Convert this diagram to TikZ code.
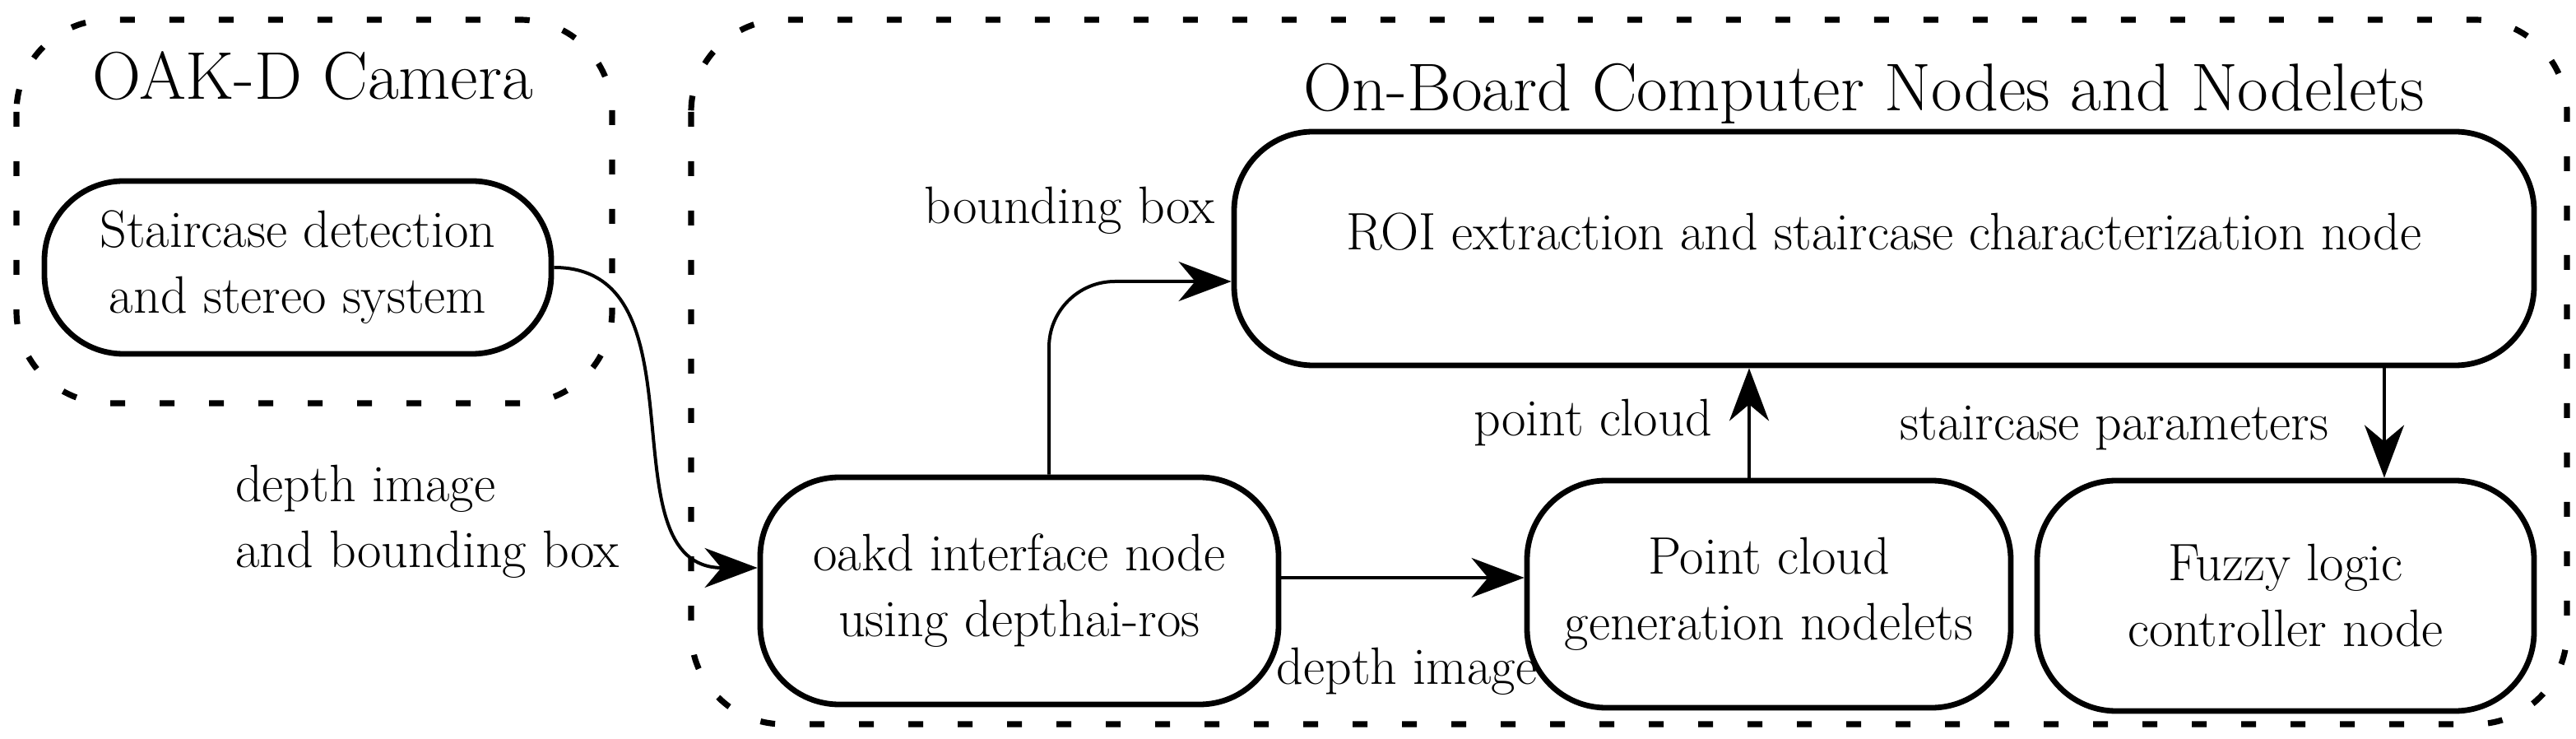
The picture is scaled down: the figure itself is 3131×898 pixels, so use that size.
\documentclass[tikz,border=0pt]{standalone}
\usetikzlibrary{arrows.meta}
\begin{document}
\begin{tikzpicture}[x=0.25pt,y=-0.25pt,
  box/.style={draw,line width=1.7pt,rounded corners=24pt,align=center,font=\fontsize{16}{20}\selectfont,inner sep=0pt},
  frame/.style={draw,line width=1.8pt,rounded corners=28pt,dash pattern=on 4.5pt off 10.5pt},
  arr/.style={line width=1pt,-{Stealth[length=16pt,width=12pt,inset=5pt]}},
  lab/.style={font=\fontsize{16}{20}\selectfont,align=left},
  title/.style={font=\fontsize{20.5}{24}\selectfont}]
\useasboundingbox (0,0) rectangle (3131,898);
\draw[frame] (20,24) rectangle (744,490);
\draw[frame] (840,24) rectangle (3120,880);
\node[title] (t1) at (380,92) {OAK-D Camera};
\node[title] (t2) at (2266,114) {On-Board Computer Nodes and Nodelets};
\node[box,minimum width=154pt,minimum height=52.5pt] (st) at (362,325) {Staircase detection\\and stereo system};
\node[box,minimum width=395pt,minimum height=71pt] (roi) at (2290,302) {};
\node (roit) at ([yshift=5pt]roi.center) {\fontsize{16}{20}\selectfont ROI extraction and staircase characterization node};
\node[box,minimum width=157.5pt,minimum height=69pt] (oakd) at (1239,718) {oakd interface node\\using depthai-ros};
\node[box,minimum width=147pt,minimum height=69pt] (pc) at (2150,722) {Point cloud\\generation nodelets};
\node[box,minimum width=151pt,minimum height=70pt] (fz) at (2778,724) {Fuzzy logic\\controller node};
\coordinate (fzin) at ([xshift=30pt]fz.north);
\coordinate (pcout) at ([xshift=-6pt]pc.north);
\coordinate (oakout) at ([xshift=9pt]oakd.north);
\draw[arr] (st.east) to[out=0,in=180,looseness=1.1] ([yshift=7pt]oakd.west);
\draw[arr,rounded corners=20pt] (oakout) |- ([yshift=-10pt]roi.west);
\draw[arr] (pcout) -- (pcout |- roi.south);
\draw[arr] (fzin |- roi.south) -- (fzin);
\draw[arr] ([yshift=4pt]oakd.east) -- ([yshift=4pt]oakd.east -| pc.west);
\node[lab] (l1) at (1300,256) {bounding box};
\node[lab] (l2) at (1936,514) {point cloud};
\node[lab] (l3) at (2570,520) {staircase parameters};
\node[lab] (l4) at (1710,816) {depth image};
\node[lab,anchor=west] (l5) at (272,634) {depth image\\and bounding box};
\end{tikzpicture}
\end{document}
